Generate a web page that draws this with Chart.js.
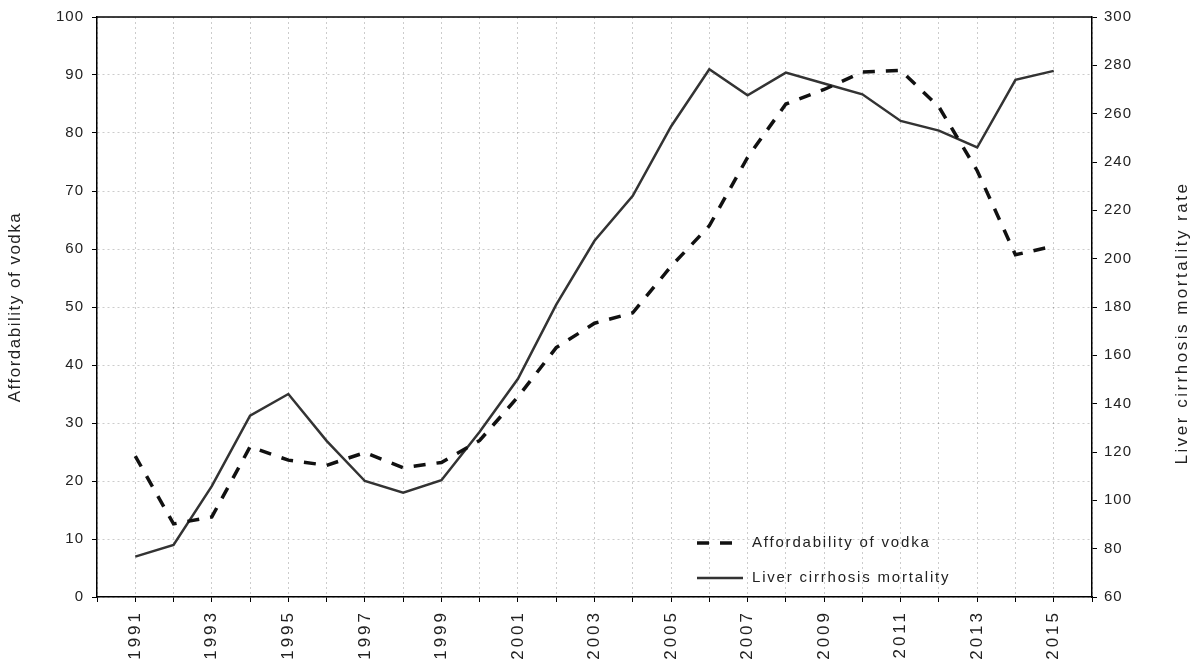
<!DOCTYPE html>
<html lang="en">
<head>
<meta charset="UTF-8">
<title>Affordability of vodka and liver cirrhosis mortality</title>
<script src="https://cdn.jsdelivr.net/npm/chart.js"></script>
<style>
  body { margin: 0; background: #fff; }
  #wrap { width: 1193px; height: 671px; position: relative; }
</style>
</head>
<body>
<div id="wrap"><canvas id="chart"></canvas></div>
<script>
// data
const years = [1991, 1992, 1993, 1994, 1995, 1996, 1997, 1998, 1999, 2000, 2001, 2002, 2003,
               2004, 2005, 2006, 2007, 2008, 2009, 2010, 2011, 2012, 2013, 2014, 2015];
const labelYears = [1991, 1993, 1995, 1997, 1999, 2001, 2003, 2005, 2007, 2009, 2011, 2013, 2015];
// affordability of vodka (left axis)
const vodka = [24.3, 12.6, 13.8, 25.9, 23.6, 22.7, 24.9, 22.3, 23.2, 27.0, 34.5, 43.0, 47.2,
               49.0, 57.0, 64.0, 75.8, 85.0, 87.5, 90.5, 90.8, 84.5, 73.5, 59.0, 60.5];
// liver cirrhosis mortality rate (right axis)
const cirrhosis = [76.7, 81.5, 105.9, 135, 144, 124.6, 108, 103.2, 108.3, 128.4, 150.3, 181, 207.4,
                   226, 254.7, 278.4, 267.6, 277, 272.5, 268, 257, 253, 246, 274, 277.7];

const leftTitle = 'Affordability of vodka';
const rightTitle = 'Liver cirrhosis mortality rate';

const FONT = '"Liberation Sans", Arial, sans-serif';
Chart.defaults.font.family = FONT;
Chart.defaults.color = '#222';

const gridColor = 'rgba(0,0,0,0.2)';

// frame line on top + custom legend + right title
const extras = {
    id: 'extras',
    beforeDraw(chart) {
        chart.ctx.letterSpacing = '1px';
    },
    afterDraw(chart) {
        const ctx = chart.ctx;
        const a = chart.chartArea;
        ctx.save();
        ctx.strokeStyle = '#000';
        ctx.lineWidth = 1.5;
        ctx.beginPath();
        ctx.moveTo(a.left, a.top);
        ctx.lineTo(a.right, a.top);
        ctx.stroke();
        ctx.restore();

        // legend inside plot, bottom right
        const rows = [543, 578];
        chart.data.datasets.forEach((ds, i) => {
            const y = rows[i];
            ctx.save();
            ctx.strokeStyle = ds.borderColor;
            ctx.lineWidth = ds.borderWidth;
            ctx.setLineDash(ds.borderDash || []);
            ctx.beginPath();
            ctx.moveTo(697, y);
            ctx.lineTo(743, y);
            ctx.stroke();
            ctx.setLineDash([]);
            ctx.letterSpacing = '1.8px';
            ctx.font = '15px ' + FONT;
            ctx.fillStyle = '#222';
            ctx.textBaseline = 'middle';
            ctx.fillText(ds.label, 752, y);
            ctx.restore();
        });

        // right axis title, reading bottom to top
        ctx.save();
        ctx.letterSpacing = '2.5px';
        ctx.font = '17px ' + FONT;
        ctx.fillStyle = '#222';
        ctx.textAlign = 'center';
        ctx.textBaseline = 'middle';
        ctx.translate(1182, 323);
        ctx.rotate(-Math.PI / 2);
        ctx.fillText(rightTitle, 0, 0);
        ctx.restore();
    }
};

const chart = new Chart(document.getElementById('chart'), {
    type: 'line',
    data: {
        datasets: [{
            label: 'Affordability of vodka',
            data: years.map((yr, i) => ({ x: yr, y: vodka[i] })),
            yAxisID: 'y',
            borderColor: '#111',
            borderWidth: 3.5,
            borderDash: [12, 11],
            pointRadius: 0,
            tension: 0,
            fill: false
        }, {
            label: 'Liver cirrhosis mortality',
            data: years.map((yr, i) => ({ x: yr, y: cirrhosis[i] })),
            yAxisID: 'y2',
            borderColor: '#333',
            borderWidth: 2.5,
            pointRadius: 0,
            tension: 0,
            fill: false
        }]
    },
    options: {
        responsive: true,
        maintainAspectRatio: false,
        animation: false,
        layout: { padding: { top: 17, left: 0, right: 0, bottom: 0 } },
        plugins: {
            legend: { display: false },
            tooltip: { enabled: false }
        },
        scales: {
            x: {
                type: 'linear',
                min: 1990,
                max: 2016,
                afterFit(scale) { scale.height = 74; },
                ticks: {
                    stepSize: 1,
                    autoSkip: false,
                    minRotation: 90,
                    maxRotation: 90,
                    padding: 8,
                    font: { size: 17 },
                    callback: v => labelYears.includes(v) ? String(v) : ''
                },
                grid: { color: gridColor, tickColor: '#000', tickLength: 5, lineWidth: 1 },
                border: { color: '#000', width: 1.5, dash: [2, 3] }
            },
            y: {
                position: 'left',
                min: 0,
                max: 100,
                afterFit(scale) { scale.width = 97; },
                ticks: { stepSize: 10, padding: 8, font: { size: 15 } },
                grid: { color: gridColor, tickColor: '#000', tickLength: 5, lineWidth: 1 },
                border: { color: '#000', width: 1.5, dash: [2, 3] },
                title: {
                    display: true,
                    text: leftTitle,
                    font: { size: 17 },
                    padding: { top: 5, bottom: 0 }
                }
            },
            y2: {
                position: 'right',
                min: 60,
                max: 300,
                afterFit(scale) { scale.width = 101; },
                ticks: { stepSize: 20, padding: 7, font: { size: 15 } },
                grid: { drawOnChartArea: false, tickColor: '#000', tickLength: 5 },
                border: { color: '#000', width: 1.5 }
            }
        }
    },
    plugins: [extras]
});

// wider letter spacing on the year labels and the left title
const xs = chart.scales.x;
const xLabels = xs.drawLabels;
xs.drawLabels = function (area) {
    this.ctx.letterSpacing = '3px';
    xLabels.call(this, area);
    this.ctx.letterSpacing = '1px';
};
const ys = chart.scales.y;
const yTitle = ys.drawTitle;
ys.drawTitle = function () {
    this.ctx.letterSpacing = '1.5px';
    yTitle.call(this);
    this.ctx.letterSpacing = '1px';
};
chart.update('none');
</script>
</body>
</html>
